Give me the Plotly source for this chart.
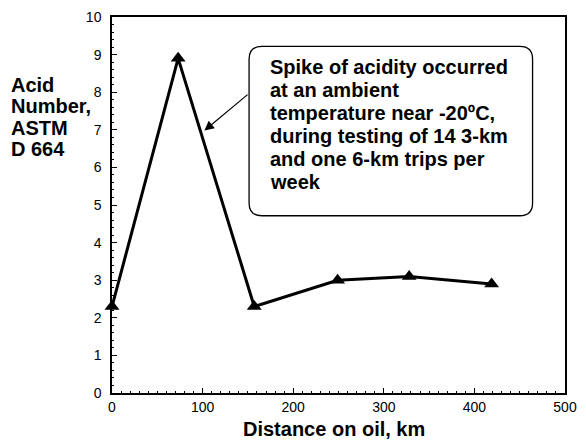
import plotly.graph_objects as go

distance_km = [0, 73, 157, 249, 328, 419]
acid_number = [2.3, 8.9, 2.3, 3.0, 3.1, 2.9]

x_ticks = [0, 100, 200, 300, 400, 500]
y_ticks = [0, 1, 2, 3, 4, 5, 6, 7, 8, 9, 10]

note_lines = [
    "Spike of acidity occurred",
    "at an ambient",
    "temperature near -20\u00baC,",
    "during testing of 14 3-km",
    "and one 6-km trips per",
    "week",
]
ytitle_lines = ["Acid", "Number,", "ASTM", "D 664"]
xtitle = "Distance on oil, km"

FONT = "Liberation Sans, Arial, Helvetica, sans-serif"

fig = go.Figure()
fig.add_trace(go.Scatter(
    x=distance_km, y=acid_number, mode="lines+markers",
    line=dict(color="black", width=3),
    marker=dict(symbol="triangle-up", size=13, color="black"),
    cliponaxis=False, showlegend=False,
))

# pixel helpers (plot area: x 112..573, y 9..393)
def px_to_x(px):
    return (px - 112) / 461 * 500

def py_to_y(py):
    return (393 - py) / 384 * 10

# rounded box
L, R, T, B = px_to_x(251.5), px_to_x(540), py_to_y(39), py_to_y(212)
rx, ry = 13 / 0.922, 13 / 38.4
path = (f"M {L+rx},{T} L {R-rx},{T} Q {R},{T} {R},{T-ry} "
        f"L {R},{B+ry} Q {R},{B} {R-rx},{B} L {L+rx},{B} "
        f"Q {L},{B} {L},{B+ry} L {L},{T-ry} Q {L},{T} {L+rx},{T} Z")
fig.add_shape(type="path", path=path, xref="x", yref="y",
              line=dict(color="black", width=1.3), fillcolor="white")

# arrow
fig.add_annotation(x=px_to_x(206), y=py_to_y(125), ax=px_to_x(251.5), ay=py_to_y(87),
                   xref="x", yref="y", axref="x", ayref="y", text="",
                   showarrow=True, arrowhead=2, arrowsize=1.6, arrowwidth=1.2,
                   arrowcolor="black")

# note text lines
baselines = [67, 90.5, 114, 137.5, 161, 184.5]
for t, b in zip(note_lines, baselines):
    fig.add_annotation(x=px_to_x(272), y=py_to_y(b - 7), xref="x", yref="y",
                       text=f"<b>{t}</b>", showarrow=False, xanchor="left",
                       yanchor="middle", borderpad=0,
                       font=dict(family=FONT, size=20, color="black"))

# y title lines
ybases = [85, 107, 129, 151]
for t, b in zip(ytitle_lines, ybases):
    fig.add_annotation(x=(8 - 112) / 461, y=(393 - (b - 7)) / 384, xref="paper", yref="paper",
                       text=f"<b>{t}</b>", showarrow=False, xanchor="left",
                       yanchor="middle", borderpad=0,
                       font=dict(family=FONT, size=20, color="black"))

# x title
fig.add_annotation(x=(338 - 112) / 461, y=(393 - 430) / 384, xref="paper", yref="paper",
                   text=f"<b>{xtitle}</b>", showarrow=False, xanchor="center",
                   yanchor="middle", font=dict(family=FONT, size=20, color="black"))

axis_common = dict(showgrid=False, zeroline=False, showline=True, linecolor="black",
                   linewidth=1.5, mirror=True, ticks="inside", ticklen=5,
                   tickcolor="black", tickwidth=1,
                   tickfont=dict(family=FONT, size=14, color="black"))

fig.update_xaxes(range=[0, 500], tickvals=x_ticks, ticktext=[str(v) for v in x_ticks],
                 minor=dict(dtick=10, ticks="inside", ticklen=2, tickcolor="black"),
                 **axis_common)
fig.update_yaxes(range=[0, 10], tickvals=y_ticks, ticktext=[str(v) for v in y_ticks],
                 minor=dict(dtick=0.2, ticks="inside", ticklen=2, tickcolor="black"),
                 ticklabelstandoff=6, **axis_common)

fig.update_layout(width=586, height=442, margin=dict(l=112, r=13, t=9, b=49),
                  paper_bgcolor="white", plot_bgcolor="white",
                  font=dict(family=FONT, color="black"))

fig.write_html("out.html")
